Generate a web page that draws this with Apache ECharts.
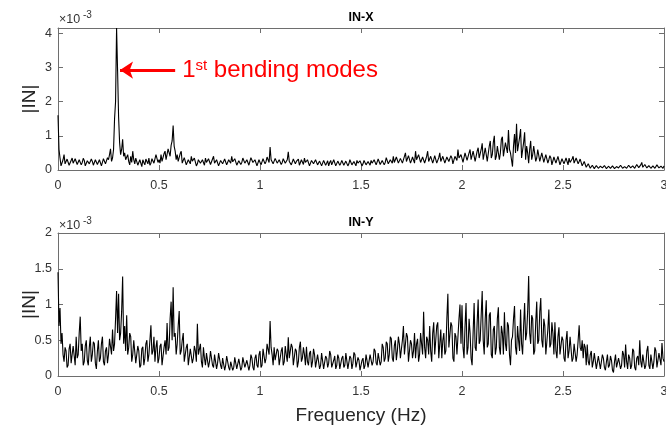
<!DOCTYPE html>
<html><head><meta charset="utf-8">
<script src="https://cdn.jsdelivr.net/npm/echarts@6/dist/echarts.min.js"></script>
<style>html,body{margin:0;padding:0;background:#fff}#c{width:666px;height:431px}</style>
</head><body><div id="c"></div>
<script>
// |IN| spectra, units of 1e-3, sampled every 0.005 Hz from 0 to 3 Hz (one row = 0.1 Hz)
const IN_X = [
1.6,0.6,0.35,0.12,0.15,0.3,0.45,0.18,0.2,0.32,0.3,0.14,0.15,0.28,0.35,0.2,0.2,0.33,0.3,0.16,
0.18,0.3,0.32,0.15,0.22,0.34,0.28,0.12,0.15,0.27,0.3,0.18,0.2,0.32,0.25,0.14,0.12,0.3,0.28,0.16,
0.2,0.3,0.35,0.12,0.15,0.33,0.3,0.18,0.22,0.36,0.3,0.45,0.62,0.25,0.35,0.6,1.5,2.0,4.15,2.9,
1.55,0.8,0.45,0.6,0.9,0.4,0.5,0.3,0.35,0.45,0.25,0.15,0.4,0.22,0.55,0.3,0.18,0.35,0.3,0.14,
0.12,0.3,0.25,0.1,0.3,0.22,0.15,0.32,0.28,0.18,0.35,0.14,0.2,0.33,0.38,0.2,0.25,0.45,0.42,0.22,
0.3,0.2,0.45,0.25,0.3,0.48,0.55,0.3,0.35,0.62,0.6,0.4,0.72,0.85,1.3,0.7,0.55,0.3,0.45,0.25,
0.3,0.48,0.55,0.2,0.25,0.36,0.38,0.15,0.2,0.3,0.32,0.18,0.4,0.26,0.22,0.35,0.3,0.12,0.18,0.3,
0.3,0.2,0.15,0.3,0.28,0.14,0.35,0.22,0.2,0.33,0.3,0.16,0.18,0.32,0.4,0.2,0.22,0.3,0.28,0.12,
0.15,0.28,0.3,0.18,0.22,0.32,0.35,0.15,0.18,0.3,0.28,0.2,0.4,0.24,0.2,0.33,0.3,0.14,0.15,0.27,
0.3,0.16,0.22,0.35,0.38,0.2,0.18,0.3,0.3,0.14,0.25,0.36,0.4,0.22,0.2,0.3,0.32,0.12,0.15,0.3,
0.28,0.15,0.2,0.33,0.35,0.18,0.25,0.38,0.4,0.22,0.67,0.3,0.3,0.18,0.2,0.34,0.35,0.2,0.18,0.3,
0.3,0.16,0.22,0.33,0.35,0.2,0.25,0.3,0.53,0.25,0.3,0.15,0.2,0.32,0.35,0.18,0.25,0.3,0.32,0.14,
0.18,0.3,0.3,0.16,0.35,0.22,0.2,0.3,0.28,0.12,0.15,0.28,0.32,0.18,0.22,0.3,0.3,0.15,0.18,0.26,
0.25,0.12,0.15,0.28,0.3,0.14,0.2,0.27,0.12,0.22,0.28,0.15,0.2,0.3,0.3,0.12,0.15,0.26,0.25,0.14,
0.2,0.28,0.3,0.14,0.12,0.26,0.25,0.12,0.18,0.3,0.3,0.15,0.15,0.25,0.22,0.12,0.28,0.2,0.15,0.27,
0.25,0.12,0.18,0.28,0.3,0.15,0.12,0.25,0.22,0.14,0.28,0.2,0.15,0.3,0.25,0.15,0.2,0.32,0.3,0.16,
0.18,0.28,0.3,0.15,0.22,0.36,0.35,0.18,0.2,0.3,0.28,0.2,0.4,0.22,0.25,0.38,0.35,0.2,0.2,0.34,
0.38,0.2,0.25,0.4,0.5,0.25,0.3,0.42,0.45,0.2,0.28,0.38,0.35,0.2,0.55,0.3,0.3,0.45,0.4,0.22,
0.25,0.38,0.42,0.2,0.3,0.4,0.55,0.25,0.22,0.4,0.45,0.2,0.3,0.42,0.38,0.2,0.2,0.36,0.5,0.25,
0.3,0.4,0.45,0.2,0.22,0.38,0.4,0.25,0.3,0.42,0.35,0.18,0.2,0.4,0.45,0.28,0.6,0.35,0.3,0.45,
0.4,0.22,0.25,0.5,0.55,0.28,0.3,0.5,0.6,0.3,0.35,0.55,0.5,0.25,0.28,0.55,0.65,0.35,0.4,0.6,
0.78,0.3,0.35,0.65,0.6,0.25,0.3,0.7,0.85,0.35,0.45,0.8,1.0,0.3,0.4,0.7,0.75,0.3,0.5,0.9,
0.97,0.4,0.45,0.8,0.85,0.5,1.17,0.6,0.5,0.3,0.1,0.7,1.05,0.5,1.35,0.55,0.6,0.95,1.2,0.35,
0.4,0.8,1.1,0.3,0.7,0.5,0.2,0.6,0.85,0.3,0.45,0.7,0.65,0.25,0.35,0.6,0.55,0.25,0.3,0.5,
0.5,0.22,0.25,0.45,0.45,0.2,0.3,0.42,0.35,0.15,0.2,0.38,0.4,0.2,0.25,0.4,0.35,0.15,0.2,0.33,
0.38,0.18,0.22,0.35,0.3,0.15,0.35,0.22,0.2,0.32,0.4,0.2,0.25,0.35,0.38,0.18,0.2,0.32,0.3,0.12,
0.15,0.25,0.22,0.08,0.1,0.18,0.15,0.05,0.08,0.14,0.12,0.04,0.06,0.13,0.1,0.05,0.05,0.11,0.12,0.06,
0.08,0.13,0.1,0.04,0.05,0.11,0.12,0.05,0.07,0.12,0.1,0.04,0.05,0.1,0.12,0.06,0.08,0.14,0.1,0.05,
0.06,0.1,0.12,0.05,0.08,0.14,0.15,0.06,0.06,0.12,0.12,0.05,0.1,0.16,0.18,0.07,0.08,0.15,0.22,0.08,
0.1,0.16,0.15,0.06,0.08,0.13,0.12,0.05,0.06,0.12,0.1,0.05,0.08,0.15,0.14,0.06,0.06,0.11,0.1,0.05,
0.12
];
const IN_Y = [
1.45,0.7,0.95,0.45,0.6,0.3,0.2,0.4,0.35,0.12,0.15,0.38,0.45,0.18,0.2,0.42,0.4,0.15,0.55,0.25,
0.3,0.6,0.83,0.35,0.45,0.15,0.2,0.42,0.5,0.22,0.15,0.4,0.55,0.2,0.3,0.48,0.45,0.18,0.1,0.35,
0.5,0.2,0.25,0.45,0.55,0.2,0.15,0.35,0.4,0.18,0.3,0.52,0.5,0.3,0.65,0.35,0.45,0.8,1.19,0.6,
1.15,0.5,0.6,0.9,1.39,0.45,0.7,0.35,0.85,0.3,0.4,0.6,0.55,0.2,0.3,0.5,0.5,0.18,0.2,0.42,
0.35,0.12,0.15,0.38,0.41,0.15,0.25,0.45,0.5,0.2,0.3,0.5,0.71,0.3,0.35,0.55,0.2,0.4,0.5,0.18,
0.25,0.42,0.45,0.15,0.15,0.4,0.5,0.3,0.74,0.35,0.4,0.8,1.04,0.5,1.24,0.55,0.6,0.3,0.45,0.7,
0.91,0.3,0.35,0.5,0.6,0.2,0.2,0.4,0.45,0.15,0.15,0.38,0.4,0.18,0.25,0.42,0.35,0.2,0.73,0.3,
0.3,0.45,0.2,0.12,0.4,0.25,0.15,0.32,0.3,0.12,0.2,0.35,0.35,0.15,0.12,0.3,0.28,0.1,0.18,0.32,
0.3,0.15,0.1,0.25,0.25,0.08,0.15,0.28,0.28,0.12,0.08,0.2,0.22,0.08,0.12,0.26,0.25,0.1,0.1,0.24,
0.22,0.08,0.12,0.26,0.28,0.12,0.1,0.22,0.2,0.08,0.15,0.3,0.25,0.12,0.08,0.25,0.3,0.15,0.12,0.3,
0.35,0.12,0.15,0.38,0.4,0.18,0.25,0.45,0.45,0.3,0.77,0.4,0.3,0.15,0.4,0.22,0.2,0.38,0.35,0.15,
0.15,0.35,0.4,0.15,0.2,0.42,0.3,0.2,0.54,0.25,0.25,0.45,0.4,0.15,0.15,0.38,0.35,0.12,0.2,0.4,
0.48,0.2,0.25,0.4,0.3,0.15,0.41,0.2,0.15,0.32,0.35,0.12,0.2,0.38,0.3,0.12,0.12,0.3,0.28,0.1,
0.15,0.32,0.3,0.1,0.1,0.28,0.25,0.12,0.18,0.35,0.3,0.12,0.1,0.22,0.28,0.1,0.15,0.3,0.25,0.1,
0.1,0.25,0.28,0.12,0.15,0.32,0.3,0.1,0.12,0.28,0.25,0.1,0.18,0.33,0.3,0.12,0.1,0.26,0.22,0.08,
0.08,0.22,0.25,0.1,0.15,0.3,0.3,0.12,0.12,0.3,0.28,0.15,0.2,0.38,0.35,0.18,0.15,0.32,0.3,0.15,
0.2,0.45,0.4,0.2,0.25,0.48,0.45,0.2,0.3,0.55,0.52,0.25,0.2,0.42,0.5,0.22,0.35,0.55,0.45,0.25,
0.25,0.5,0.7,0.3,0.3,0.6,0.55,0.2,0.2,0.5,0.45,0.25,0.35,0.6,0.25,0.45,0.52,0.2,0.3,0.6,
0.6,0.3,0.9,0.4,0.25,0.55,0.5,0.3,0.7,0.35,0.2,0.6,0.75,0.3,0.3,0.7,0.75,0.25,0.45,0.65,
0.25,0.5,0.6,0.3,0.35,0.8,1.15,0.4,0.4,0.75,0.7,0.25,0.2,0.6,0.55,0.3,0.3,0.8,1.0,0.45,
0.99,0.4,0.25,0.7,1.02,0.3,0.4,0.8,0.6,0.25,0.15,0.6,1.02,0.4,0.35,0.75,1.07,0.45,0.5,0.85,
1.19,0.5,0.3,0.8,1.06,0.4,0.45,0.85,0.89,0.3,0.25,0.65,0.7,0.3,0.4,0.8,0.96,0.4,0.3,0.7,
0.6,0.3,0.89,0.45,0.35,0.75,0.7,0.3,0.15,0.5,0.55,0.8,0.98,0.4,0.3,0.7,0.5,0.35,0.93,0.45,
0.3,0.7,1.02,0.5,0.6,0.9,1.4,0.6,0.45,0.85,0.8,0.3,0.35,0.75,1.04,0.45,0.5,0.9,1.09,0.5,
0.4,0.8,0.7,0.3,0.3,0.65,0.93,0.4,0.45,0.75,0.6,0.3,0.75,0.35,0.25,0.55,0.68,0.3,0.3,0.55,
0.5,0.25,0.2,0.5,0.63,0.25,0.35,0.55,0.54,0.2,0.25,0.45,0.45,0.2,0.3,0.5,0.71,0.4,0.35,0.5,
0.25,0.45,0.4,0.15,0.44,0.2,0.15,0.3,0.35,0.12,0.2,0.32,0.3,0.1,0.12,0.28,0.28,0.1,0.1,0.3,
0.25,0.12,0.08,0.2,0.3,0.12,0.15,0.28,0.22,0.08,0.05,0.2,0.3,0.12,0.1,0.25,0.25,0.1,0.15,0.35,
0.3,0.12,0.44,0.2,0.1,0.3,0.25,0.1,0.15,0.38,0.35,0.12,0.08,0.25,0.28,0.15,0.5,0.2,0.12,0.3,
0.3,0.1,0.15,0.35,0.42,0.15,0.1,0.3,0.28,0.1,0.2,0.4,0.35,0.12,0.12,0.32,0.3,0.15,0.46,0.25,
0.2
];
const FREQ_STEP = 0.005;
const TITLES = ['IN-X', 'IN-Y'];
const Y_NAME = '|IN|';
const X_NAME = 'Frequency (Hz)';
const SCALE_BASE = '\u00d710';
const SCALE_EXP = '-3';
const ANNOT_FROM = [0.58, 2.92];
const ANNOT_TO = [0.307, 2.92];

const FONT = '"Liberation Sans", Arial, Helvetica, sans-serif';
const AXIS_COLOR = '#6e6e6e';
const LABEL_COLOR = '#333333';

function pairs(arr) { return arr.map((v, i) => [Math.round(i * FREQ_STEP * 1000) / 1000, v]); }

function xAx(grid, top) {
  return {
    type: 'value', gridIndex: grid, position: top ? 'top' : 'bottom',
    min: 0, max: 3, interval: 0.5,
    axisLine: { show: true, onZero: false, lineStyle: { color: AXIS_COLOR, width: 1 } },
    axisTick: { show: true, inside: true, length: 5, lineStyle: { color: AXIS_COLOR } },
    axisLabel: { show: !top, color: LABEL_COLOR, fontSize: 12.5, fontFamily: FONT, margin: 9 },
    splitLine: { show: false }
  };
}
function yAx(grid, right, max, interval) {
  return {
    type: 'value', gridIndex: grid, position: right ? 'right' : 'left',
    min: 0, max: max, interval: interval,
    name: right ? '' : Y_NAME, nameLocation: 'middle', nameGap: 19, nameRotate: 90,
    nameMoveOverlap: false,
    nameTextStyle: { fontSize: 19, color: '#262626', fontFamily: FONT },
    axisLine: { show: true, onZero: false, lineStyle: { color: AXIS_COLOR, width: 1 } },
    axisTick: { show: true, inside: true, length: 5, lineStyle: { color: AXIS_COLOR } },
    axisLabel: { show: !right, color: LABEL_COLOR, fontSize: 12.5, fontFamily: FONT, margin: 6,
      showMaxLabel: max % interval === 0 },
    splitLine: { show: false }
  };
}

const chart = echarts.init(document.getElementById('c'), null, { renderer: 'canvas' });
chart.setOption({
  animation: false,
  backgroundColor: '#ffffff',
  grid: [
    { left: 58, right: 2, top: 28, height: 142, containLabel: false, outerBoundsMode: 'none' },
    { left: 58, right: 2, top: 233, height: 143, containLabel: false, outerBoundsMode: 'none' }
  ],
  xAxis: [xAx(0, false), xAx(0, true), xAx(1, false), xAx(1, true)],
  yAxis: [yAx(0, false, 4.15, 1), yAx(0, true, 4.15, 1), yAx(1, false, 2, 0.5), yAx(1, true, 2, 0.5)],
  series: [
    {
      type: 'line', xAxisIndex: 0, yAxisIndex: 0, data: pairs(IN_X),
      showSymbol: false, symbol: 'none', lineStyle: { color: '#000', width: 1.1 },
      markLine: {
        silent: true, symbol: ['none', 'arrow'], symbolSize: [13, 13],
        lineStyle: { color: '#ff0000', width: 3, type: 'solid' },
        label: {
          show: true, position: 'start', distance: 7,
          formatter: '{a|1}{s|st}{a| bending modes}',
          rich: {
            a: { fontSize: 24, color: '#ff0000', fontFamily: FONT },
            s: { fontSize: 15, color: '#ff0000', fontFamily: FONT, verticalAlign: 'top' }
          }
        },
        data: [[{ coord: ANNOT_FROM }, { coord: ANNOT_TO }]]
      }
    },
    {
      type: 'line', xAxisIndex: 2, yAxisIndex: 2, data: pairs(IN_Y),
      showSymbol: false, symbol: 'none', lineStyle: { color: '#000', width: 1.1 }
    }
  ],
  graphic: [
    { type: 'text', x: 361, y: 18, style: { text: TITLES[0], fill: '#000', font: 'bold 12.5px ' + FONT, textAlign: 'center', textVerticalAlign: 'middle' } },
    { type: 'text', x: 361, y: 223, style: { text: TITLES[1], fill: '#000', font: 'bold 12.5px ' + FONT, textAlign: 'center', textVerticalAlign: 'middle' } },
    { type: 'text', x: 59, y: 20, style: { text: SCALE_BASE, fill: LABEL_COLOR, font: '12.5px ' + FONT, textAlign: 'left', textVerticalAlign: 'middle' } },
    { type: 'text', x: 83, y: 15, style: { text: SCALE_EXP, fill: LABEL_COLOR, font: '10px ' + FONT, textAlign: 'left', textVerticalAlign: 'middle' } },
    { type: 'text', x: 59, y: 226, style: { text: SCALE_BASE, fill: LABEL_COLOR, font: '12.5px ' + FONT, textAlign: 'left', textVerticalAlign: 'middle' } },
    { type: 'text', x: 83, y: 221, style: { text: SCALE_EXP, fill: LABEL_COLOR, font: '10px ' + FONT, textAlign: 'left', textVerticalAlign: 'middle' } },
    { type: 'text', x: 361, y: 416, style: { text: X_NAME, fill: '#262626', font: '19px ' + FONT, textAlign: 'center', textVerticalAlign: 'middle' } }
  ]
});
</script></body></html>
